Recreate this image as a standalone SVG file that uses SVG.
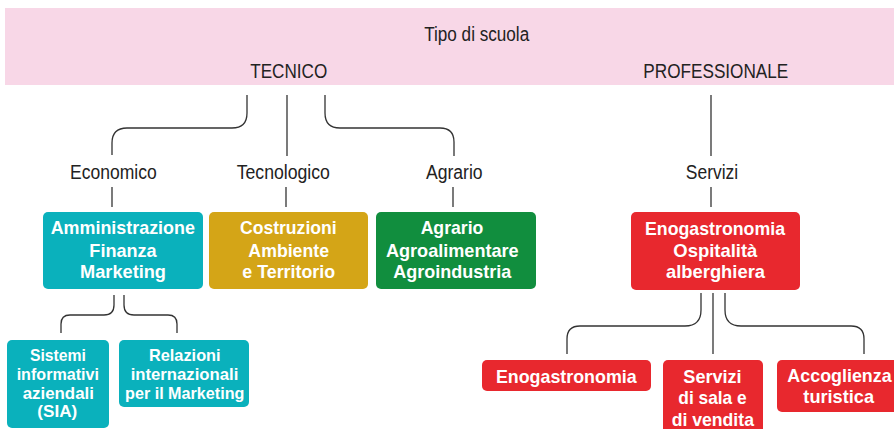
<svg xmlns="http://www.w3.org/2000/svg" width="894" height="429" viewBox="0 0 894 429">
<style>
.lbl{font-family:"Liberation Sans",Arial,sans-serif;font-size:20px;fill:#222;text-anchor:middle}
.bt{font-family:"Liberation Sans",Arial,sans-serif;font-weight:bold;font-size:19px;fill:#fff;text-anchor:middle}
.st{font-size:17px}
.con{fill:none;stroke:#333;stroke-width:1.3}
.cy{fill:#0AB1BC}.ye{fill:#D4A517}.gr{fill:#118E3E}.rd{fill:#E8282E}
</style>
<rect width="894" height="429" fill="#fff"/>
<g id="header">
<rect x="5" y="8" width="889" height="77" fill="#F8D7E7"/>
<text class="lbl" x="476.7" y="41" textLength="105" lengthAdjust="spacingAndGlyphs">Tipo di scuola</text>
<text class="lbl" x="288.7" y="77.7" textLength="77" lengthAdjust="spacingAndGlyphs">TECNICO</text>
<text class="lbl" x="715.8" y="77.7" textLength="145" lengthAdjust="spacingAndGlyphs">PROFESSIONALE</text>
</g>
<g id="connectors" class="con">
<path d="M247,95 V113 Q247,128 232,128 H127 Q112,128 112,143 V155"/>
<path d="M287,95 V156"/>
<path d="M325,95 V113 Q325,128 340,128 H440 Q454,128 454,142 V156"/>
<path d="M112,187 V207"/>
<path d="M286,187 V207"/>
<path d="M453,187 V207"/>
<path d="M711,95 V156"/>
<path d="M711,187 V207"/>
<path d="M114,295 V305 Q114,315 104,315 H70 Q61,315 61,324 V333"/>
<path d="M124,295 V305 Q124,315 134,315 H168 Q177,315 177,324 V333"/>
<path d="M701,293 V310 Q701,326 685,326 H580 Q567,326 567,339 V354"/>
<path d="M713,293 V354"/>
<path d="M725,293 V310 Q725,326 741,326 H851 Q864,326 864,339 V354"/>
</g>
<g id="economico"><text class="lbl" x="113.3" y="179.3" textLength="86.7" lengthAdjust="spacingAndGlyphs">Economico</text></g>
<g id="tecnologico"><text class="lbl" x="283.3" y="179.3" textLength="93.3" lengthAdjust="spacingAndGlyphs">Tecnologico</text></g>
<g id="agrario"><text class="lbl" x="454.3" y="179.3" textLength="56.7" lengthAdjust="spacingAndGlyphs">Agrario</text></g>
<g id="servizi"><text class="lbl" x="712" y="179.3" textLength="52.3" lengthAdjust="spacingAndGlyphs">Servizi</text></g>
<g id="afm">
<rect class="cy" x="43" y="212" width="160" height="77" rx="5"/>
<text class="bt" x="122.8" y="234.3" textLength="144.3" lengthAdjust="spacingAndGlyphs">Amministrazione</text>
<text class="bt" x="123" y="256.7" textLength="67.3" lengthAdjust="spacingAndGlyphs">Finanza</text>
<text class="bt" x="123" y="278.3" textLength="86" lengthAdjust="spacingAndGlyphs">Marketing</text>
</g>
<g id="cat">
<rect class="ye" x="209" y="212" width="159" height="77" rx="5"/>
<text class="bt" x="288.3" y="234.3" textLength="96.7" lengthAdjust="spacingAndGlyphs">Costruzioni</text>
<text class="bt" x="288.7" y="256.7" textLength="80.7" lengthAdjust="spacingAndGlyphs">Ambiente</text>
<text class="bt" x="288.7" y="278.3" textLength="92.7" lengthAdjust="spacingAndGlyphs">e Territorio</text>
</g>
<g id="agr">
<rect class="gr" x="376" y="212" width="160" height="77" rx="5"/>
<text class="bt" x="452" y="234.3" textLength="62.7" lengthAdjust="spacingAndGlyphs">Agrario</text>
<text class="bt" x="452.3" y="256.7" textLength="132.7" lengthAdjust="spacingAndGlyphs">Agroalimentare</text>
<text class="bt" x="452.3" y="278.3" textLength="118" lengthAdjust="spacingAndGlyphs">Agroindustria</text>
</g>
<g id="eno">
<rect class="rd" x="631" y="212" width="169" height="78" rx="5"/>
<text class="bt" x="715" y="235" textLength="140" lengthAdjust="spacingAndGlyphs">Enogastronomia</text>
<text class="bt" x="715.3" y="256.7" textLength="84" lengthAdjust="spacingAndGlyphs">Ospitalità</text>
<text class="bt" x="715.5" y="278.3" textLength="99" lengthAdjust="spacingAndGlyphs">alberghiera</text>
</g>
<g id="sia">
<rect class="cy" x="7" y="340" width="102" height="88" rx="5"/>
<text class="bt st" x="58" y="360.7" textLength="56" lengthAdjust="spacingAndGlyphs">Sistemi</text>
<text class="bt st" x="57.8" y="380" textLength="82.3" lengthAdjust="spacingAndGlyphs">informativi</text>
<text class="bt st" x="58.3" y="399.3" textLength="71.3" lengthAdjust="spacingAndGlyphs">aziendali</text>
<text class="bt st" x="57.3" y="417" textLength="40" lengthAdjust="spacingAndGlyphs">(SIA)</text>
</g>
<g id="rim">
<rect class="cy" x="119" y="340" width="130" height="67" rx="5"/>
<text class="bt st" x="184.8" y="360.7" textLength="71.7" lengthAdjust="spacingAndGlyphs">Relazioni</text>
<text class="bt st" x="184.5" y="380" textLength="107.7" lengthAdjust="spacingAndGlyphs">internazionali</text>
<text class="bt st" x="184.7" y="399.3" textLength="119.3" lengthAdjust="spacingAndGlyphs">per il Marketing</text>
</g>
<g id="enogastronomia">
<rect class="rd" x="482" y="360" width="169" height="31" rx="5"/>
<text class="bt" x="566.3" y="382.7" textLength="140.7" lengthAdjust="spacingAndGlyphs">Enogastronomia</text>
</g>
<g id="sala">
<rect class="rd" x="663" y="360" width="100" height="75" rx="5"/>
<text class="bt" x="712.5" y="382.7" textLength="58.3" lengthAdjust="spacingAndGlyphs">Servizi</text>
<text class="bt" x="712.5" y="404.3" textLength="68.3" lengthAdjust="spacingAndGlyphs">di sala e</text>
<text class="bt" x="712.8" y="426" textLength="82.3" lengthAdjust="spacingAndGlyphs">di vendita</text>
</g>
<g id="accoglienza">
<rect class="rd" x="777" y="360" width="124" height="52" rx="5"/>
<text class="bt" x="839.5" y="381.7" textLength="104.3" lengthAdjust="spacingAndGlyphs">Accoglienza</text>
<text class="bt" x="838.7" y="403.3" textLength="70.7" lengthAdjust="spacingAndGlyphs">turistica</text>
</g>
</svg>
